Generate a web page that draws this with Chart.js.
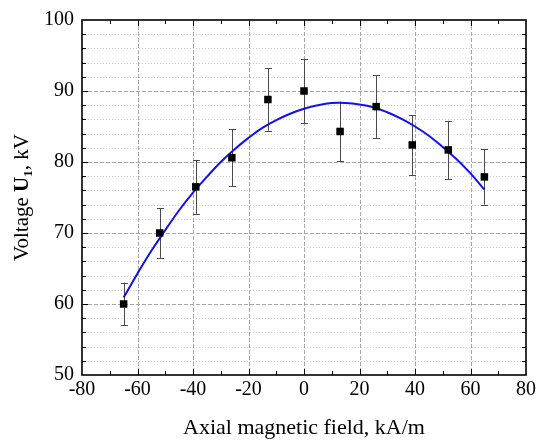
<!DOCTYPE html>
<html>
<head>
<meta charset="utf-8">
<script src="https://cdn.jsdelivr.net/npm/chart.js@4/dist/chart.umd.min.js"></script>
<style>
html, body { margin: 0; padding: 0; background: #fff; }
</style>
</head>
<body>
<canvas id="chart" width="539" height="443"></canvas>
<script>
// measured points (axial field, kA/m -> voltage U1, kV) with error bars
var fieldValues = [-65, -52, -39, -26, -13, 0, 13, 26, 39, 52, 65];
var voltageValues = [60.0, 70.0, 76.5, 80.6, 88.8, 90.0, 84.3, 87.8, 82.4, 81.7, 77.9];
var voltageErrors = [3.0, 3.5, 3.8, 4.0, 4.4, 4.5, 4.2, 4.4, 4.2, 4.1, 3.9];

// blue fit curve
var fitField = [-65, -60, -55, -50, -45, -40, -35, -30, -25, -20, -15, -10, -5, 0,
                5, 10, 15, 20, 25, 30, 35, 40, 45, 50, 55, 60, 65];
var fitVoltage = [60.9, 64.3, 67.5, 70.4, 73.2, 75.7, 77.9, 80.0, 81.8, 83.4, 84.8, 85.9, 86.8, 87.5,
                  88.0, 88.3, 88.3, 88.1, 87.7, 87.0, 86.1, 85.0, 83.7, 82.1, 80.4, 78.4, 76.1];

var xTicks = [-80, -60, -40, -20, 0, 20, 40, 60, 80];
var yTicks = [50, 60, 70, 80, 90, 100];

var serif = "'Liberation Serif', 'Times New Roman', serif";

var points = [];
for (var i = 0; i < fieldValues.length; i++) {
    points.push({ x: fieldValues[i], y: voltageValues[i] });
}
var fit = [];
for (var j = 0; j < fitField.length; j++) {
    fit.push({ x: fitField[j], y: fitVoltage[j] });
}

function crisp(v) {
    return Math.round(v) + 0.5;
}

var framePlugin = {
    id: 'frame',
    beforeDatasetsDraw: function (chart) {
        var ctx = chart.ctx;
        var a = chart.chartArea;
        var xs = chart.scales.x;
        var ys = chart.scales.y;
        ctx.save();
        ctx.lineWidth = 1;

        // minor dotted y grid every 2 kV
        ctx.strokeStyle = '#cfcfcf';
        ctx.setLineDash([1, 2]);
        for (var v = 52; v < 100; v += 2) {
            if (v % 10 === 0) continue;
            var py = crisp(ys.getPixelForValue(v));
            ctx.beginPath();
            ctx.moveTo(a.left, py);
            ctx.lineTo(a.right, py);
            ctx.stroke();
        }

        // major dashed grid
        ctx.strokeStyle = '#a8a8a8';
        ctx.setLineDash([4, 2]);
        yTicks.forEach(function (t) {
            if (t === ys.min || t === ys.max) return;
            var py = crisp(ys.getPixelForValue(t));
            ctx.beginPath();
            ctx.moveTo(a.left, py);
            ctx.lineTo(a.right, py);
            ctx.stroke();
        });
        xTicks.forEach(function (t) {
            if (t === xs.min || t === xs.max) return;
            var px = crisp(xs.getPixelForValue(t));
            ctx.beginPath();
            ctx.moveTo(px, a.top);
            ctx.lineTo(px, a.bottom);
            ctx.stroke();
        });
        ctx.setLineDash([]);

        // error bars
        ctx.strokeStyle = '#4a4a4a';
        ctx.lineWidth = 1;
        for (var i = 0; i < fieldValues.length; i++) {
            var cx = crisp(xs.getPixelForValue(fieldValues[i]));
            var top = ys.getPixelForValue(voltageValues[i] + voltageErrors[i]);
            var bot = ys.getPixelForValue(voltageValues[i] - voltageErrors[i]);
            ctx.beginPath();
            ctx.moveTo(cx, top);
            ctx.lineTo(cx, bot);
            ctx.moveTo(cx - 3.5, crisp(top));
            ctx.lineTo(cx + 3.5, crisp(top));
            ctx.moveTo(cx - 3.5, crisp(bot));
            ctx.lineTo(cx + 3.5, crisp(bot));
            ctx.stroke();
        }
        ctx.restore();
    },
    afterDatasetsDraw: function (chart) {
        var ctx = chart.ctx;
        var a = chart.chartArea;
        var xs = chart.scales.x;
        var ys = chart.scales.y;
        ctx.save();
        ctx.strokeStyle = '#000';
        ctx.lineWidth = 1;

        // inward ticks on all four sides
        ctx.beginPath();
        for (var xv = -70; xv < 80; xv += 10) {
            var len = (xv % 20 === 0) ? 6 : 4;
            var px = crisp(xs.getPixelForValue(xv));
            ctx.moveTo(px, a.bottom);
            ctx.lineTo(px, a.bottom - len);
            ctx.moveTo(px, a.top);
            ctx.lineTo(px, a.top + len);
        }
        for (var yv = 52; yv < 100; yv += 2) {
            var l = (yv % 10 === 0) ? 6 : 4;
            var py = crisp(ys.getPixelForValue(yv));
            ctx.moveTo(a.left, py);
            ctx.lineTo(a.left + l, py);
            ctx.moveTo(a.right, py);
            ctx.lineTo(a.right - l, py);
        }
        ctx.stroke();

        // frame
        ctx.lineWidth = 1.6;
        ctx.strokeRect(a.left, a.top, a.right - a.left, a.bottom - a.top);

        // y axis title: "Voltage U1, kV" with bold U and subscript 1
        var parts = [
            { t: 'Voltage ', f: '21px ' + serif, dy: 0 },
            { t: 'U', f: 'bold 21px ' + serif, dy: 0 },
            { t: '1', f: 'bold 13px ' + serif, dy: 4 },
            { t: ', kV', f: '21px ' + serif, dy: 0 }
        ];
        var total = 0;
        parts.forEach(function (p) {
            ctx.font = p.f;
            p.w = ctx.measureText(p.t).width;
            total += p.w;
        });
        ctx.translate(28, (a.top + a.bottom) / 2);
        ctx.rotate(-Math.PI / 2);
        ctx.fillStyle = '#000';
        ctx.textBaseline = 'alphabetic';
        ctx.textAlign = 'left';
        var x = -total / 2;
        parts.forEach(function (p) {
            ctx.font = p.f;
            ctx.fillText(p.t, x, p.dy);
            x += p.w;
        });
        ctx.restore();
    }
};

new Chart(document.getElementById('chart'), {
    type: 'scatter',
    data: {
        datasets: [{
            data: points,
            order: 0,
            pointStyle: 'rect',
            pointRadius: 5.3,
            pointHoverRadius: 5.3,
            backgroundColor: '#000',
            borderColor: '#000',
            borderWidth: 0,
            showLine: false
        }, {
            data: fit,
            order: 1,
            showLine: true,
            borderColor: '#1010f0',
            borderWidth: 2,
            pointRadius: 0,
            pointHoverRadius: 0,
            tension: 0.4,
            fill: false
        }]
    },
    options: {
        responsive: false,
        animation: false,
        devicePixelRatio: 1,
        layout: { padding: { top: 17, right: 12, left: 0, bottom: 0 } },
        plugins: {
            legend: { display: false },
            tooltip: { enabled: false }
        },
        scales: {
            x: {
                type: 'linear',
                min: -80,
                max: 80,
                grid: { display: false, drawTicks: false },
                border: { display: false },
                afterBuildTicks: function (axis) {
                    axis.ticks = xTicks.map(function (v) { return { value: v }; });
                },
                afterFit: function (axis) { axis.height = 68; },
                ticks: {
                    color: '#000',
                    padding: 3,
                    maxRotation: 0,
                    font: { family: serif, size: 20 }
                },
                title: {
                    display: true,
                    text: 'Axial magnetic field, kA/m',
                    color: '#000',
                    padding: { top: 2, bottom: 2 },
                    font: { family: serif, size: 22 }
                }
            },
            y: {
                type: 'linear',
                min: 50,
                max: 100,
                grid: { display: false, drawTicks: false },
                border: { display: false },
                afterBuildTicks: function (axis) {
                    axis.ticks = yTicks.map(function (v) { return { value: v }; });
                },
                afterFit: function (axis) { axis.width = 82; },
                ticks: {
                    color: '#000',
                    padding: 8,
                    font: { family: serif, size: 20 }
                }
            }
        }
    },
    plugins: [framePlugin]
});
</script>
</body>
</html>
